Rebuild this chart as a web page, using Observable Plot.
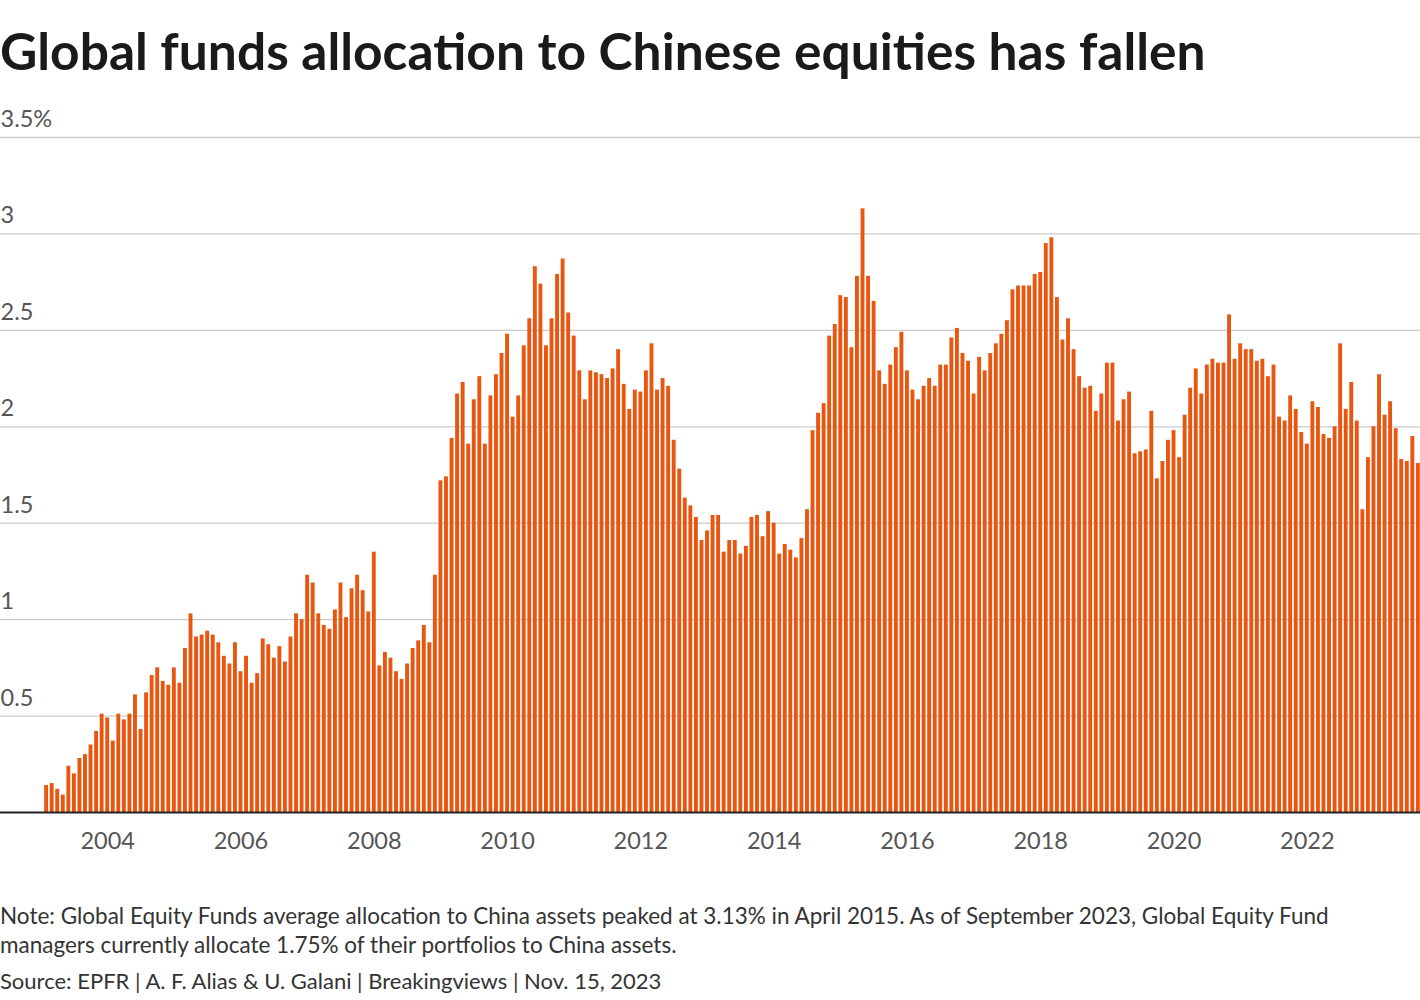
<!DOCTYPE html>
<html>
<head>
<meta charset="utf-8">
<script src="https://cdn.jsdelivr.net/npm/d3@7"></script>
<script src="https://cdn.jsdelivr.net/npm/@observablehq/plot@0.6"></script>
<style>
  html, body { margin: 0; padding: 0; background: #fff; }
  body { width: 1420px; height: 1000px; position: relative; overflow: hidden; font-family: Lato, "Noto Sans", sans-serif; }
  #title { position: absolute; left: 0; top: 21px; font-weight: 700; font-size: 51.5px; line-height: 58px; color: #1a1a1a; white-space: nowrap; }
  #chart { position: absolute; left: 0; top: 95px; }
  #note { position: absolute; left: 0; top: 901px; font-size: 22.5px; line-height: 29px; color: #333; white-space: nowrap; }
  #source { position: absolute; left: 0; top: 966px; font-size: 22px; line-height: 29px; color: #333; white-space: nowrap; }
</style>
</head>
<body>
<div id="title">Global funds allocation to Chinese equities has fallen</div>
<div id="chart"></div>
<div id="note">Note: Global Equity Funds average allocation to China assets peaked at 3.13% in April 2015. As of September 2023, Global Equity Fund<br>managers currently allocate 1.75% of their portfolios to China assets.</div>
<div id="source">Source: EPFR | A. F. Alias &amp; U. Galani | Breakingviews | Nov. 15, 2023</div>
<script>
// First month of the series (monthly, month-end observations)
const startMonth = [2003, 0];
// Average allocation of global equity funds to China, % (Jan 2003 onward)
const allocation = [
  0.14, 0.15, 0.12, 0.09, 0.24, 0.20, 0.28, 0.30, 0.35, 0.42, 0.51, 0.49,
  0.37, 0.51, 0.48, 0.51, 0.61, 0.43, 0.62, 0.71, 0.75, 0.68, 0.66, 0.75,
  0.67, 0.85, 1.03, 0.91, 0.92, 0.94, 0.92, 0.88, 0.81, 0.77, 0.88, 0.73,
  0.81, 0.67, 0.72, 0.90, 0.87, 0.80, 0.86, 0.78, 0.91, 1.03, 1.00, 1.23,
  1.19, 1.03, 0.97, 0.95, 1.05, 1.19, 1.01, 1.16, 1.23, 1.15, 1.04, 1.35,
  0.76, 0.83, 0.80, 0.73, 0.69, 0.77, 0.85, 0.89, 0.97, 0.88, 1.23, 1.72,
  1.74, 1.94, 2.17, 2.23, 1.91, 2.14, 2.26, 1.91, 2.16, 2.27, 2.38, 2.48,
  2.05, 2.16, 2.42, 2.56, 2.83, 2.74, 2.42, 2.56, 2.79, 2.87, 2.59, 2.47,
  2.29, 2.14, 2.29, 2.28, 2.27, 2.25, 2.30, 2.40, 2.22, 2.09, 2.19, 2.18,
  2.29, 2.43, 2.19, 2.25, 2.21, 1.93, 1.78, 1.63, 1.59, 1.53, 1.41, 1.46,
  1.54, 1.54, 1.35, 1.41, 1.41, 1.34, 1.38, 1.53, 1.54, 1.43, 1.56, 1.50,
  1.34, 1.39, 1.36, 1.32, 1.42, 1.57, 1.98, 2.07, 2.12, 2.47, 2.53, 2.68,
  2.67, 2.41, 2.78, 3.13, 2.78, 2.65, 2.29, 2.22, 2.32, 2.41, 2.49, 2.29,
  2.19, 2.14, 2.21, 2.25, 2.21, 2.32, 2.32, 2.46, 2.51, 2.38, 2.34, 2.17,
  2.36, 2.29, 2.38, 2.43, 2.48, 2.55, 2.71, 2.73, 2.73, 2.73, 2.79, 2.80,
  2.95, 2.98, 2.67, 2.45, 2.56, 2.40, 2.26, 2.20, 2.21, 2.08, 2.17, 2.33,
  2.33, 2.03, 2.14, 2.18, 1.86, 1.87, 1.88, 2.08, 1.73, 1.82, 1.93, 1.98,
  1.84, 2.06, 2.20, 2.30, 2.17, 2.32, 2.35, 2.33, 2.33, 2.58, 2.35, 2.43,
  2.40, 2.40, 2.34, 2.35, 2.26, 2.32, 2.05, 2.03, 2.16, 2.09, 1.97, 1.91,
  2.13, 2.10, 1.96, 1.94, 2.00, 2.43, 2.09, 2.23, 2.03, 1.57, 1.84, 2.00,
  2.27, 2.06, 2.13, 1.99, 1.83, 1.82, 1.95, 1.81
];
const yTicks = [0.5, 1, 1.5, 2, 2.5, 3, 3.5];
const yTickLabels = ["0.5", "1", "1.5", "2", "2.5", "3", "3.5%"];
const xTickYears = [2004, 2006, 2008, 2010, 2012, 2014, 2016, 2018, 2020, 2022];

const fmt = d3.utcFormat("%Y-%m");
const start = new Date(Date.UTC(startMonth[0], startMonth[1], 1));
const months = d3.utcMonth.range(start, d3.utcMonth.offset(start, allocation.length)).map(fmt);
const data = months.map((m, i) => ({month: m, value: allocation[i]}));
// Month-end observation of December sits on the new year boundary
const xTicks = xTickYears.map(y => `${y - 1}-12`);

const chart = Plot.plot({
  width: 1420,
  height: 780,
  marginLeft: 0,
  marginRight: 0,
  marginTop: 42,
  marginBottom: 63,
  style: {fontFamily: "Lato, 'Noto Sans', sans-serif", background: "#fff", overflow: "visible"},
  x: {type: "band", domain: months, range: [42.5, 1421.5], padding: 0.3, label: null},
  y: {domain: [0, 3.5], axis: null, label: null},
  marks: [
    Plot.ruleY(yTicks, {stroke: "#cccccc", strokeWidth: 1.3}),
    Plot.barY(data, {x: "month", y: "value", fill: "#e8560f"}),
    Plot.ruleY([0], {stroke: "#222", strokeWidth: 2}),
    Plot.text(yTicks, {y: d => d, text: (d, i) => yTickLabels[i], frameAnchor: "left", textAnchor: "start", dy: -18, fontSize: 23.5, fill: "#555"}),
    Plot.axisX({ticks: xTicks, tickFormat: d => String(+d.slice(0, 4) + 1), tickSize: 0, tickPadding: 20, fontSize: 23.5, fill: "#555", label: null})
  ]
});
document.getElementById("chart").appendChild(chart);
</script>
</body>
</html>
